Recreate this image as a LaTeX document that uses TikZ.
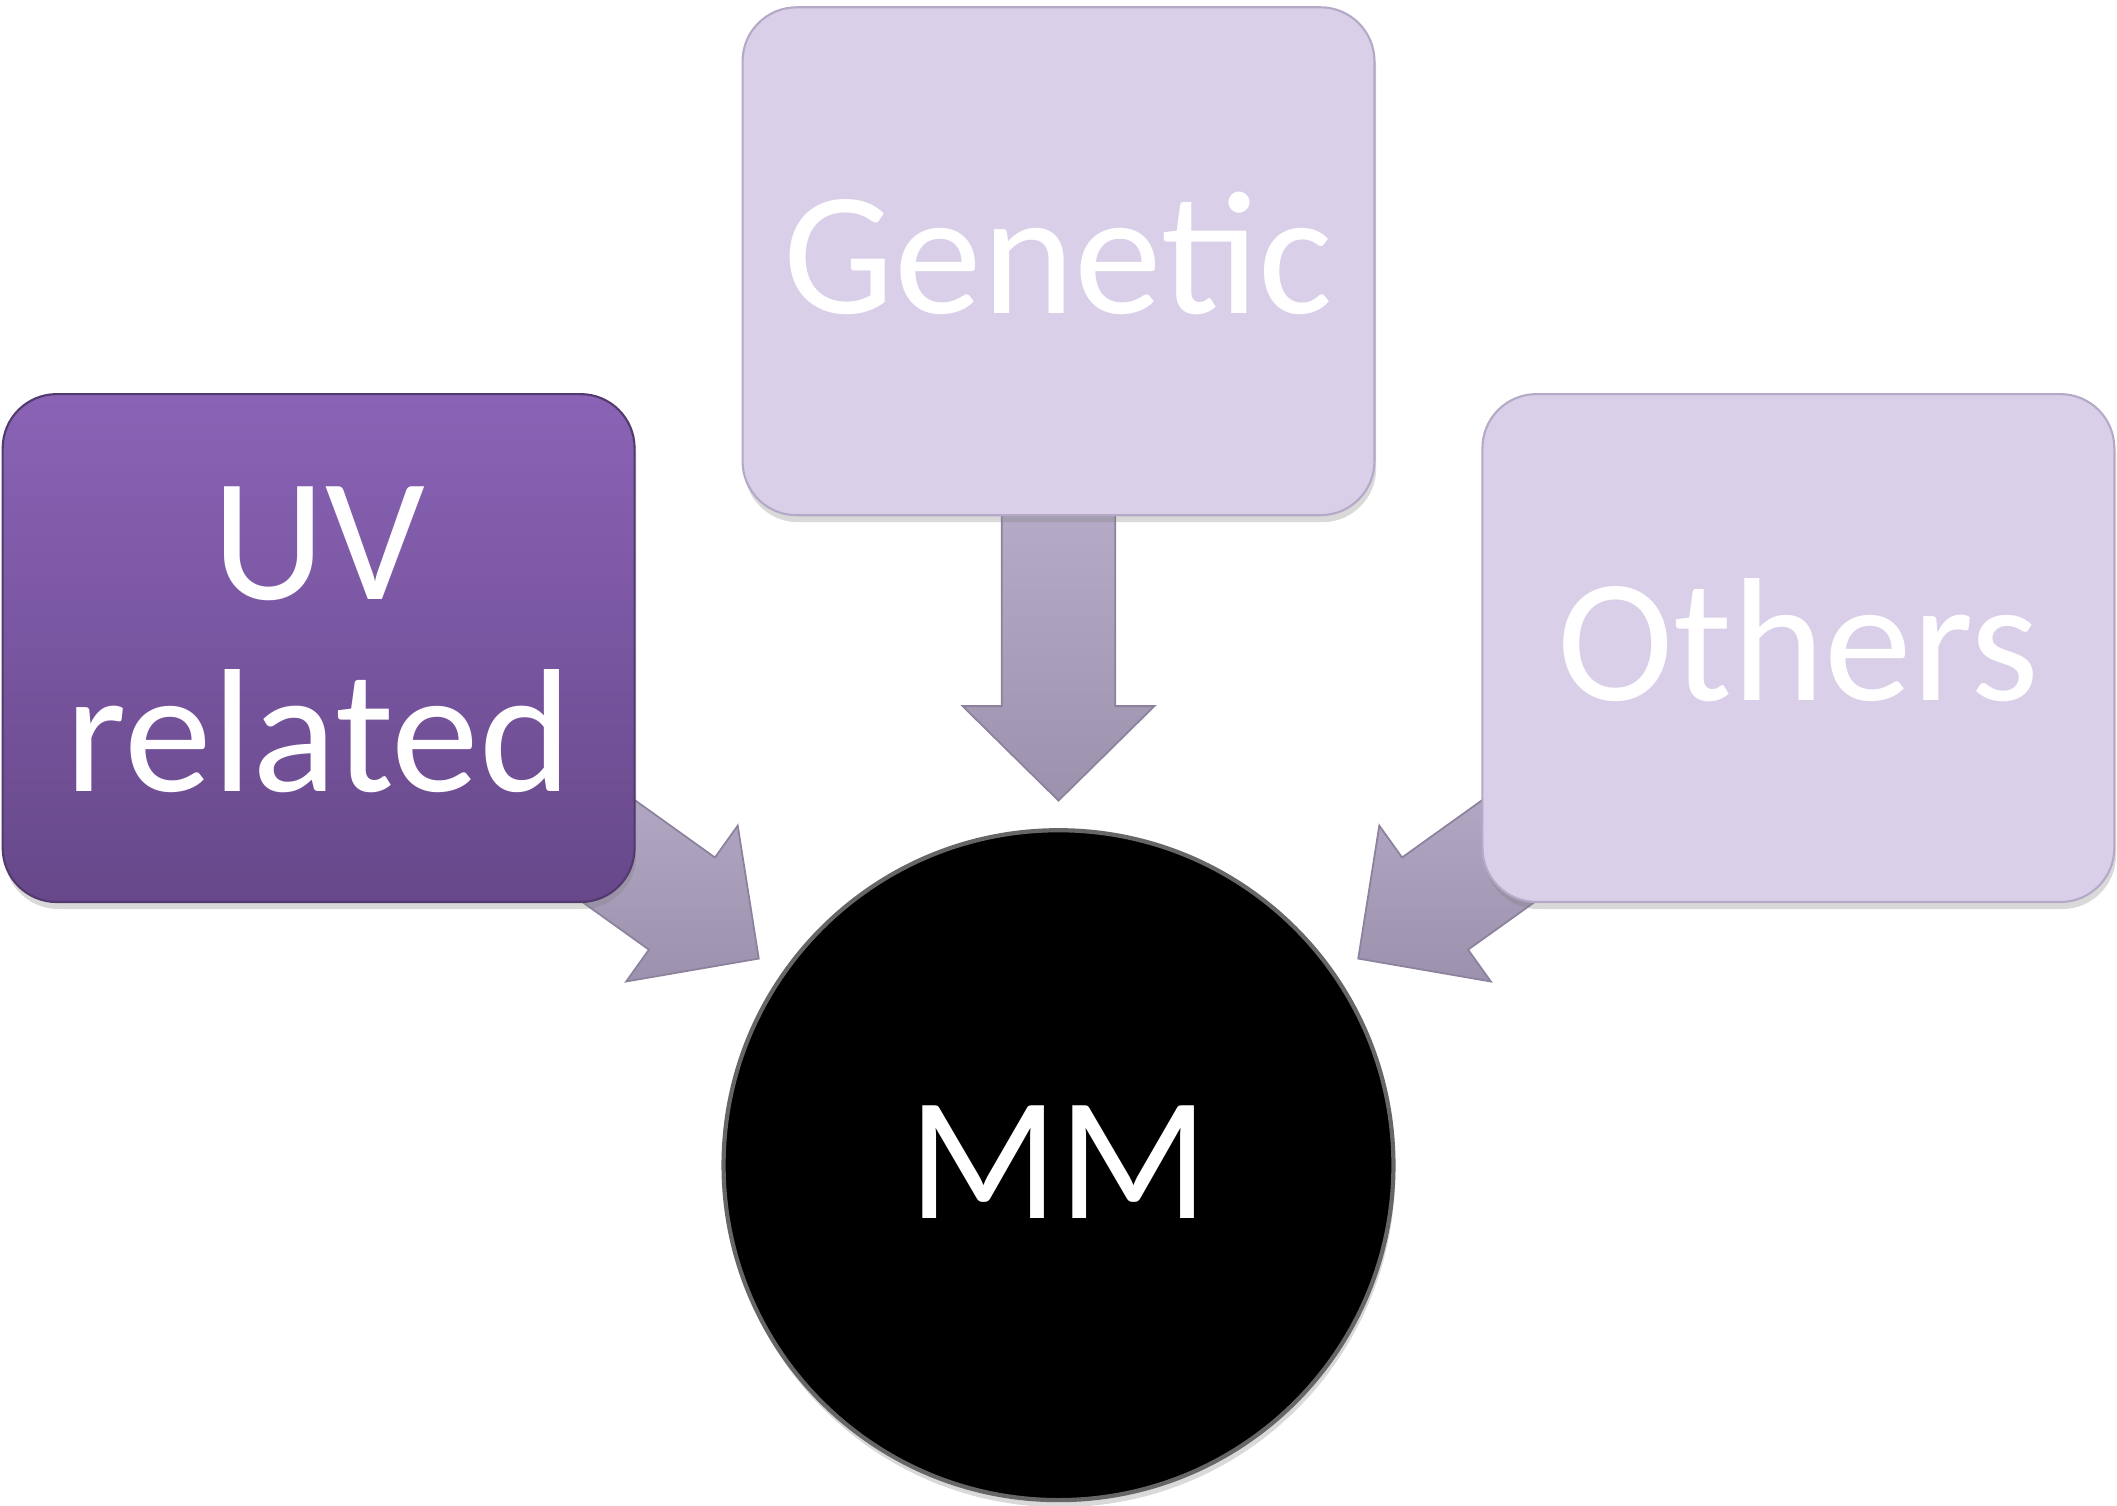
\documentclass[tikz,border=0pt]{standalone}
\usepackage{fontspec}
\setmainfont{Carlito}
\usetikzlibrary{shadows}
\definecolor{uvtop}{RGB}{138,99,182}
\definecolor{uvbot}{RGB}{103,72,138}
\definecolor{uvhigh}{RGB}{190,160,235}
\definecolor{lightbox}{RGB}{217,207,232}
\definecolor{lightedge}{RGB}{180,170,200}
\definecolor{arrtail}{RGB}{190,180,208}
\definecolor{arrtip}{RGB}{156,146,174}
\definecolor{arredge}{RGB}{140,130,158}
\tikzset{
  boxbase/.style={rectangle, rounded corners=0.54cm, minimum width=6.32cm, minimum height=5.08cm,
    text=white, align=center, font=\fontsize{50}{54.5}\selectfont, text depth=5pt,
    drop shadow={opacity=0.3, shadow xshift=0.5pt, shadow yshift=-2pt}},
  darkbox/.style={boxbase, draw=uvbot!80!black, line width=0.6pt, top color=uvtop, bottom color=uvbot},
  palebox/.style={boxbase, draw=lightedge, line width=0.6pt, fill=lightbox},
  mmcircle/.style={circle, minimum size=6.70cm, fill=black, draw=black!60, line width=1.2pt,
    text=white, font=\fontsize{50}{54.5}\selectfont, text depth=2pt,
    drop shadow={opacity=0.3, shadow xshift=0.5pt, shadow yshift=-2pt}},
  arrowbody/.style={top color=arrtail, bottom color=arrtip, draw=arredge, line width=0.5pt, line join=miter}
}
\newcommand\blockarrow[2]{%
  \begin{scope}[shift={(#1)}, rotate=#2]
    \path[arrowbody] (0,0) -- (-70,71) -- (-70,42) -- (-290,42) -- (-290,-42) -- (-70,-42) -- (-70,-71) -- cycle;
  \end{scope}}
\begin{document}
\begin{tikzpicture}[x=0.0135013cm, y=-0.0135013cm]
  \useasboundingbox (0,0) rectangle (1568,1115);
  \coordinate (tipuv) at (562,710);
  \coordinate (tipgen) at (784,593);
  \coordinate (tipoth) at (1006,710);
  \blockarrow{tipuv}{-35.6}
  \blockarrow{tipgen}{-90}
  \blockarrow{tipoth}{-144.4}
  \node[darkbox] (uv) at (236,480) {UV\\related};
  \node[palebox] (gen) at (784,193.5) {Genetic};
  \node[palebox] (oth) at (1332,480) {Others};
  \node[mmcircle] (mm) at (784,863) {MM};
\end{tikzpicture}
\end{document}
